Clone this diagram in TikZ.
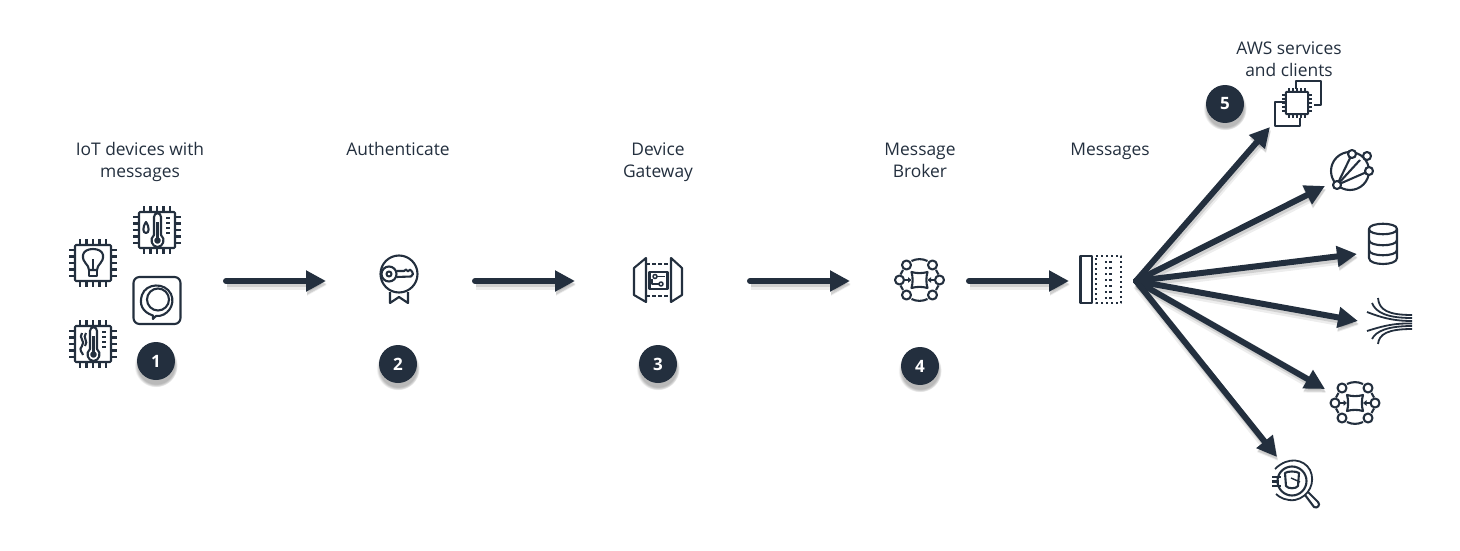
\documentclass[tikz,border=0pt]{standalone}
\usepackage{fontspec}
\setmainfont{Open Sans}
\usetikzlibrary{arrows.meta,shadows}
\definecolor{awsdark}{HTML}{232F3E}
\tikzset{
  ico/.style={draw=awsdark,line width=2.1pt,line join=round,fill=none},
  flow/.style={draw=awsdark,line width=6pt,line cap=round,-{Triangle[length=20pt,width=20pt]},
    preaction={draw=black,opacity=.07,line width=9pt,transform canvas={shift={(1pt,-4pt)}}},
    preaction={draw=black,opacity=.12,line width=6pt,transform canvas={shift={(1pt,-3pt)}}}},
  badge/.style={circle,fill=awsdark,text=white,minimum size=38pt,inner sep=0pt,font=\fontsize{17}{20}\selectfont\bfseries,
    circular drop shadow={shadow xshift=0pt,shadow yshift=-4pt,shadow scale=1.14,opacity=.55}},
  lab/.style={text=awsdark,align=center,font=\fontsize{17.4}{22}\selectfont,inner sep=0pt},
  pics/chip/.style={code={
    \draw[ico,rounded corners=1pt] (-18,-18) rectangle (18,18);
    \foreach \k in {-13,-6.5,0,6.5,13} {
      \draw[ico] (\k,-18) -- (\k,-24);
      \draw[ico] (\k,18) -- (\k,24);
      \draw[ico] (-18,\k) -- (-24,\k);
      \draw[ico] (18,\k) -- (24,\k);
    }
  }},
  pics/thermo/.style={code={
    \draw[ico] (-3,5) -- (-3,-13) .. controls (-3,-18) and (4,-18) .. (4,-13) -- (4,5)
      .. controls (9,9) and (6,17) .. (0.5,17) .. controls (-5,17) and (-8,9) .. (-3,5);
    \draw[ico,fill=awsdark] (0.5,10.5) circle (2.2);
    \draw[ico] (0.5,10.5) -- (0.5,-8);
    \foreach \k in {-12,-7,-2,3} \draw[ico] (9,\k) -- (13,\k);
  }},
  pics/broker/.style={code={
    \foreach \a/\b in {-20/0,20/0,-13/-15,13/-15,-13/15,13/15} \draw[ico] (\a,\b) circle (4.5);
    \draw[ico] (-8,-19) .. controls (-3,-21.5) and (3,-21.5) .. (8,-19);
    \draw[ico] (-8,19) .. controls (-3,21.5) and (3,21.5) .. (8,19);
    \draw[ico] (-16.5,-10) -- (-19,-5.5);
    \draw[ico] (16.5,-10) -- (19,-5.5);
    \draw[ico] (-16.5,10) -- (-19,5.5);
    \draw[ico] (16.5,10) -- (19,5.5);
    \draw[ico] (-8,-8) .. controls (-3,-6.5) and (3,-6.5) .. (8,-8) .. controls (6.5,-3) and (6.5,3) .. (8,8)
      .. controls (3,6.5) and (-3,6.5) .. (-8,8) .. controls (-6.5,3) and (-6.5,-3) .. (-8,-8) -- cycle;
    \draw[ico,-{Triangle[length=3.5pt,width=5.5pt]}] (-15.5,0) -- (-8,0);
    \draw[ico,-{Triangle[length=3.5pt,width=5.5pt]}] (15.5,0) -- (8,0);
  }}
}
\begin{document}
\begin{tikzpicture}[x=1pt,y=-1pt]
\useasboundingbox (0,0) rectangle (1460,551);
% labels
\node[lab] (labiot) at (140,161.5) {IoT devices with\\messages};
\node[lab] (labauth) at (398,149) {Authenticate};
\node[lab] (labgw) at (658,162.5) {Device\\Gateway};
\node[lab] (labbrk) at (920,160) {Message\\Broker};
\node[lab] (labmsg) at (1110,151.5) {Messages};
\node[lab] (labaws) at (1289,59.5) {AWS services\\and clients};
% numbers
\node[badge] (n1) at (156,361) {1};
\node[badge] (n2) at (398,364) {2};
\node[badge] (n3) at (658,364) {3};
\node[badge] (n4) at (920,366) {4};
\node[badge] (n5) at (1225,104) {5};
% arrow ends
\coordinate (a1) at (226,281);
\coordinate (b1) at (326,281);
\coordinate (a2) at (475,281);
\coordinate (b2) at (575,281);
\coordinate (a3) at (750,281);
\coordinate (b3) at (850,281);
\coordinate (a4) at (969,281);
\coordinate (b4) at (1069,281);
\coordinate (hub) at (1136,281);
\coordinate (t1) at (1270,127);
\coordinate (t2) at (1325,186);
\coordinate (t3) at (1357,254);
\coordinate (t4) at (1358,321);
\coordinate (t5) at (1325,389);
\coordinate (t6) at (1277,457);
\draw[flow] (a1) -- (b1);
\draw[flow] (a2) -- (b2);
\draw[flow] (a3) -- (b3);
\draw[flow] (a4) -- (b4);
\foreach \t in {t1,t2,t3,t4,t5,t6} \draw[flow] (hub) -- (\t);
% devices
\pic (chipbulb) at (93,263) {chip};
\draw[ico] (93,270) -- (93,259);
\draw[ico] (89,270) .. controls (89,264) and (82,263) .. (83,255) .. controls (84,247) and (102,247) .. (103,255) .. controls (104,263) and (97,264) .. (97,270) -- cycle;
\draw[ico] (89,270) rectangle (97,276);
\pic (chipwet) at (157,230) {chip};
\pic (thwet) at (157,230) {thermo};
\draw[ico] (146,222) .. controls (142,228) and (143,233) .. (146,233) .. controls (149,233) and (150,228) .. (146,222) -- cycle;
\pic (chipheat) at (93,344) {chip};
\pic (thheat) at (93,344) {thermo};
\draw[ico] (82,333) .. controls (78,338) and (86,341) .. (82,346) .. controls (78,350) and (83,353) .. (83,355);
\draw[ico] (86,333) .. controls (82,338) and (89,341) .. (85,346);
\draw[ico,rounded corners=6pt] (133.5,277) rectangle (180.5,324);
\draw[ico] (153,315.5) .. controls (142,312) and (139,304) .. (142,295) .. controls (146,283) and (165,282) .. (171,294) .. controls (176,305) and (167,317) .. (156,316) -- (153,319) -- cycle;
\draw[ico] (158,299.5) circle (11);
% authenticate
\draw[ico] (399,274) circle (18.5);
\draw[ico] (389,274) circle (7.5);
\draw[ico] (389,274) circle (2.5);
\draw[ico] (396.5,271) -- (404,271) -- (406,269.5) -- (408,271.5) -- (410,269.5) -- (412,271.5) -- (413,274) -- (411,276.5) -- (396.5,277);
\draw[ico] (390,292) -- (390,303) -- (399,297) -- (408,303) -- (408,292);
% gateway
\draw[ico] (646,258) -- (634,268) -- (634,295) -- (646,302) -- cycle;
\draw[ico] (671,258) -- (682,268) -- (682,295) -- (671,302) -- cycle;
\draw[ico,dash pattern=on 3.5pt off 2.5pt] (646,264) -- (671,264);
\draw[ico,dash pattern=on 3.5pt off 2.5pt] (646,296) -- (671,296);
\draw[ico] (649.5,272) rectangle (667.5,289);
\draw[ico,line width=1.5pt] (655,276.5) circle (2);
\draw[ico,line width=1.5pt] (661,284) circle (2);
\draw[ico,line width=1.5pt] (657,276.5) -- (665,276.5);
\draw[ico,line width=1.5pt] (659,284) -- (652,284) -- (652,279);
% brokers
\pic (brk) at (919.5,280) {broker};
\pic (brkout) at (1355,403) {broker};
% messages
\draw[ico,line width=2.4pt] (1080.5,256) rectangle (1092,303);
\draw[ico,line width=2.4pt,dash pattern=on 2.4pt off 2.6pt] (1096,256) -- (1121,256) -- (1121,303) -- (1096,303) -- cycle;
\draw[ico,line width=2.4pt,dash pattern=on 2.4pt off 3.6pt] (1106,261) -- (1106,300);
\draw[ico,line width=2.4pt,dash pattern=on 2.4pt off 3.6pt] (1110.5,261) -- (1110.5,300);
% instances
\draw[ico,line width=1.6pt] (1296,89) -- (1296,81) -- (1321,81) -- (1321,105) -- (1314,105);
\draw[ico,line width=1.6pt] (1285,102) -- (1275,102) -- (1275,126) -- (1300,126) -- (1300,118);
\pic[scale=.62,every path/.append style={line width=1.2pt}] (chipec) at (1297,103) {chip};
% mesh
\draw[ico] (1350,171) circle (19);
\draw[ico] (1337,185) -- (1352,154);
\draw[ico] (1337,185) -- (1360,160);
\draw[ico] (1337,185) -- (1369,171);
\foreach \a/\b in {1337/185,1352/154,1367/156,1369/171} \draw[ico,fill=white] (\a,\b) circle (4);
% database
\draw[ico] (1369,229) .. controls (1369,222) and (1397,222) .. (1397,229) .. controls (1397,236) and (1369,236) .. (1369,229) -- (1369,258) .. controls (1369,266) and (1397,266) .. (1397,258) -- (1397,229);
\draw[ico] (1369,240) .. controls (1369,247) and (1397,247) .. (1397,240);
\draw[ico] (1369,250) .. controls (1369,257) and (1397,257) .. (1397,250);
% stream
\draw[ico,line width=1.8pt] (1378,298) .. controls (1379,310) and (1388,315) .. (1412,315);
\draw[ico,line width=1.8pt] (1372,303) .. controls (1376,313) and (1388,318) .. (1412,318);
\draw[ico,line width=1.8pt] (1367,312) .. controls (1380,317) and (1392,321) .. (1412,321);
\draw[ico,line width=1.8pt] (1367,331) .. controls (1380,327) and (1392,323) .. (1412,323.5);
\draw[ico,line width=1.8pt] (1372,339) .. controls (1376,331) and (1388,326) .. (1412,326);
\draw[ico,line width=1.8pt] (1378,344) .. controls (1379,334) and (1388,329) .. (1412,329);
% bucket search
\draw[ico] (1292,481) circle (14.5);
\draw[ico,line width=1.8pt] (1275,469) .. controls (1288,456) and (1304,459) .. (1310,470) .. controls (1316,482) and (1309,497) .. (1295,500) .. controls (1287,501) and (1280,498) .. (1276,494);
\draw[ico] (1285,473) .. controls (1287,471) and (1297,471) .. (1299,473) -- (1298,486) .. controls (1296,489) and (1288,489) .. (1286,486) -- cycle;
\draw[ico,line width=1.4pt] (1291,478) -- (1300,482);
\draw[ico] (1305,495) -- (1314,507) .. controls (1317,509) and (1321,505) .. (1318,502) -- (1308,492);
\draw[ico] (1272,477) -- (1281,477);
\draw[ico] (1272,481.5) -- (1279,481.5);
\draw[ico] (1272,486) -- (1281,486);
\end{tikzpicture}
\end{document}
